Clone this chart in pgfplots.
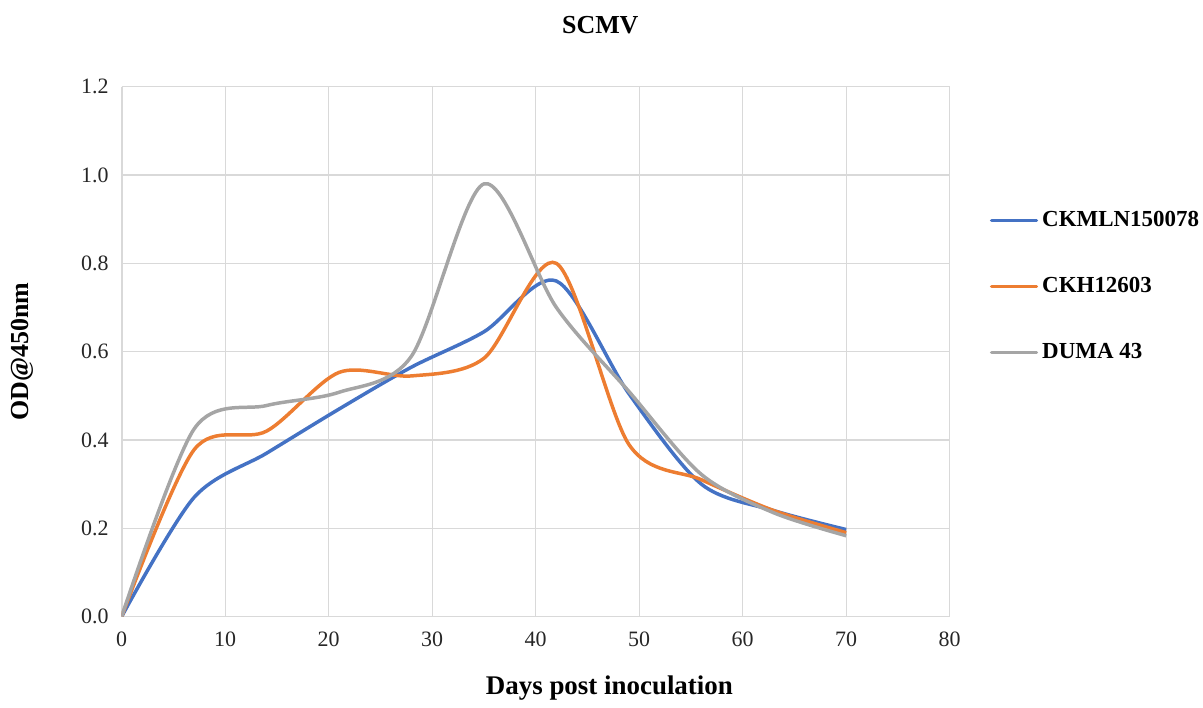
\documentclass[border=0pt]{standalone}
\usepackage{fontspec}
\setmainfont{Liberation Serif}
\usepackage{pgfplots}
\pgfplotsset{compat=1.18}

\definecolor{sblue}{HTML}{4472C4}
\definecolor{sorange}{HTML}{ED7D31}
\definecolor{sgray}{HTML}{A5A5A5}
\definecolor{gridc}{HTML}{D9D9D9}

\pgfplotstableread{
day  ckmln  ckh   duma
0    0.000  0.000 0.000
7    0.270  0.378 0.425
14   0.370  0.420 0.478
21   0.470  0.553 0.508
28   0.565  0.545 0.590
35   0.645  0.585 0.980
42   0.760  0.800 0.700
49   0.505  0.390 0.510
56   0.300  0.310 0.322
63   0.240  0.240 0.235
70   0.197  0.190 0.183
}\scmv

\begin{document}
\begin{tikzpicture}
\begin{axis}[
    at={(0,0)}, anchor=south west,
    scale only axis,
    width=415pt, height=265.5pt,
    xmin=0, xmax=80, ymin=0, ymax=1.2,
    xtick={0,10,...,80},
    ytick={0,0.2,...,1.2},
    grid=major,
    major grid style={gridc, line width=0.6pt},
    axis line style={gridc, line width=0.8pt},
    axis x line*=bottom, axis y line*=left,
    tick style={draw=none},
    ticklabel style={font=\fontsize{11}{13}\selectfont, text=black!85},
    /pgf/number format/assume math mode=true,
    yticklabel style={/pgf/number format/fixed, /pgf/number format/fixed zerofill, /pgf/number format/precision=1, xshift=-3pt},
    xticklabel style={yshift=-4pt},
    title={\textbf{SCMV}},
    title style={at={(0.578,1.1158)}, anchor=center, yshift=-6pt, font=\fontsize{13}{15}\selectfont},
    xlabel={\textbf{Days post inoculation}},
    xlabel style={at={(0.589,0)}, anchor=center, yshift=-36pt, font=\fontsize{13.5}{16}\selectfont},
    ylabel={\textbf{OD@450nm}},
    ylabel style={at={(-0.1205,0.5)}, anchor=center, font=\fontsize{13}{15}\selectfont},
    legend style={at={(1.048,0.623)}, anchor=west, draw=none, fill=none,
        inner xsep=0pt, row sep=20pt, font=\fontsize{11.5}{13}\selectfont\bfseries,
        cells={anchor=west}},
    legend image code/.code={\draw[#1, line width=1.75pt, line cap=round] (0pt,0pt) -- (22.5pt,0pt);},
    every axis plot/.append style={line width=1.75pt, smooth, tension=0.5, no markers},
]
\addplot[sblue] table[x=day, y=ckmln] {\scmv};
\addplot[sorange] table[x=day, y=ckh] {\scmv};
\addplot[sgray] table[x=day, y=duma] {\scmv};
\legend{CKMLN150078, CKH12603, DUMA 43}
\end{axis}
\path[use as bounding box] (-61pt,-41pt) rectangle (540.5pt,309pt);
\end{tikzpicture}
\end{document}
